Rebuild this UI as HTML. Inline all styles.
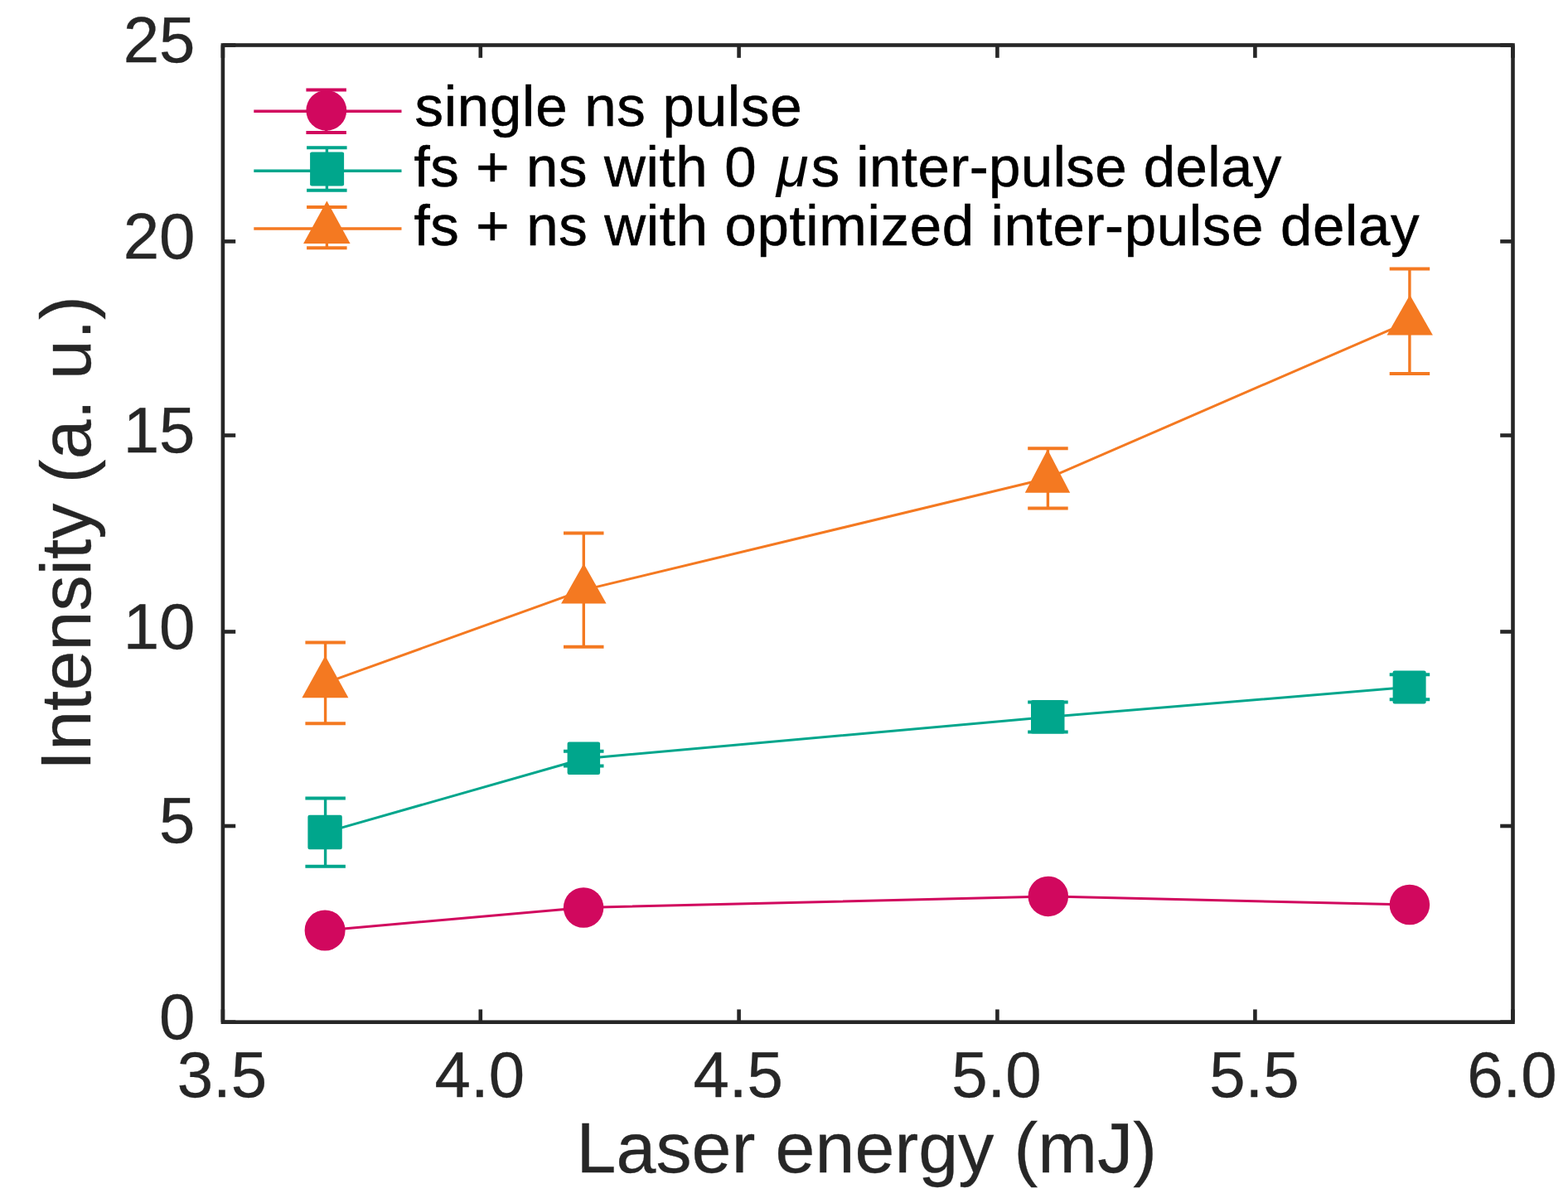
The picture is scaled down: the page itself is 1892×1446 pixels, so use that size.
<!DOCTYPE html><html><head><meta charset="utf-8"><title>Intensity vs laser energy</title><style>html,body{margin:0;padding:0;background:#fff;}svg{display:block;}text{font-family:"Liberation Sans", Arial, Helvetica, sans-serif;}</style></head><body>
<svg width="1892" height="1446" viewBox="0 0 1892 1446">
<rect width="1892" height="1446" fill="#fff"/>
<polyline points="392.6,824.3 704.3,712.1 1264.4,577.3 1700.9,387.8" fill="none" stroke="#F47921" stroke-width="3.0" stroke-linejoin="round"/>
<polyline points="392.6,1004.6 704.3,915.7 1264.4,865.5 1700.9,829.2" fill="none" stroke="#00A68C" stroke-width="3.0" stroke-linejoin="round"/>
<polyline points="392.1,1123.0 704.1,1095.5 1264.8,1081.9 1700.9,1092.0" fill="none" stroke="#D1085E" stroke-width="3.0" stroke-linejoin="round"/>
<line x1="392.6" y1="775.4" x2="392.6" y2="873.3" stroke="#F47921" stroke-width="3.4"/><line x1="368.4" y1="775.4" x2="416.9" y2="775.4" stroke="#F47921" stroke-width="4.0"/><line x1="368.4" y1="873.3" x2="416.9" y2="873.3" stroke="#F47921" stroke-width="4.0"/>
<polygon points="392.4,791.6 364.4,842.2 420.4,842.2" fill="#F47921"/>
<line x1="704.3" y1="643.5" x2="704.3" y2="780.7" stroke="#F47921" stroke-width="3.4"/><line x1="680.0" y1="643.5" x2="728.5" y2="643.5" stroke="#F47921" stroke-width="4.0"/><line x1="680.0" y1="780.7" x2="728.5" y2="780.7" stroke="#F47921" stroke-width="4.0"/>
<polygon points="704.4,680.3 677.1,728.5 731.6,728.5" fill="#F47921"/>
<line x1="1264.4" y1="541.3" x2="1264.4" y2="613.4" stroke="#F47921" stroke-width="3.4"/><line x1="1240.2" y1="541.3" x2="1288.7" y2="541.3" stroke="#F47921" stroke-width="4.0"/><line x1="1240.2" y1="613.4" x2="1288.7" y2="613.4" stroke="#F47921" stroke-width="4.0"/>
<polygon points="1264.0,542.5 1236.8,594.7 1291.2,594.7" fill="#F47921"/>
<line x1="1700.9" y1="324.6" x2="1700.9" y2="451.0" stroke="#F47921" stroke-width="3.4"/><line x1="1676.7" y1="324.6" x2="1725.2" y2="324.6" stroke="#F47921" stroke-width="4.0"/><line x1="1676.7" y1="451.0" x2="1725.2" y2="451.0" stroke="#F47921" stroke-width="4.0"/>
<polygon points="1701.2,355.9 1673.5,404.6 1728.9,404.6" fill="#F47921"/>
<line x1="392.6" y1="963.5" x2="392.6" y2="1045.8" stroke="#00A68C" stroke-width="3.4"/><line x1="368.4" y1="963.5" x2="416.9" y2="963.5" stroke="#00A68C" stroke-width="4.0"/><line x1="368.4" y1="1045.8" x2="416.9" y2="1045.8" stroke="#00A68C" stroke-width="4.0"/>
<rect x="371.4" y="983.8" width="41.4" height="41.4" rx="2.2" fill="#00A68C"/>
<line x1="704.3" y1="906.7" x2="704.3" y2="924.6" stroke="#00A68C" stroke-width="3.4"/><line x1="680.0" y1="906.7" x2="728.5" y2="906.7" stroke="#00A68C" stroke-width="4.0"/><line x1="680.0" y1="924.6" x2="728.5" y2="924.6" stroke="#00A68C" stroke-width="4.0"/>
<rect x="684.6" y="895.5" width="39.5" height="39.5" rx="2.2" fill="#00A68C"/>
<line x1="1264.4" y1="847.5" x2="1264.4" y2="883.5" stroke="#00A68C" stroke-width="3.4"/><line x1="1240.2" y1="847.5" x2="1288.7" y2="847.5" stroke="#00A68C" stroke-width="4.0"/><line x1="1240.2" y1="883.5" x2="1288.7" y2="883.5" stroke="#00A68C" stroke-width="4.0"/>
<rect x="1244.0" y="845.1" width="40.5" height="40.5" rx="2.2" fill="#00A68C"/>
<line x1="1700.9" y1="814.2" x2="1700.9" y2="844.2" stroke="#00A68C" stroke-width="3.4"/><line x1="1676.7" y1="814.2" x2="1725.2" y2="814.2" stroke="#00A68C" stroke-width="4.0"/><line x1="1676.7" y1="844.2" x2="1725.2" y2="844.2" stroke="#00A68C" stroke-width="4.0"/>
<rect x="1680.6" y="809.4" width="40.0" height="40.0" rx="2.2" fill="#00A68C"/>
<circle cx="392.1" cy="1123.0" r="24.50" fill="#D1085E"/>
<circle cx="704.1" cy="1095.5" r="24.25" fill="#D1085E"/>
<circle cx="1264.8" cy="1081.9" r="24.25" fill="#D1085E"/>
<circle cx="1700.9" cy="1092.0" r="24.25" fill="#D1085E"/>
<rect x="268.9" y="54.5" width="1556.6" height="1179.2" fill="none" stroke="#262626" stroke-width="4.6" stroke-linejoin="miter"/>
<line x1="268.9" y1="1233.7" x2="268.9" y2="1218.4" stroke="#262626" stroke-width="4.6"/>
<line x1="268.9" y1="54.5" x2="268.9" y2="69.8" stroke="#262626" stroke-width="4.6"/>
<line x1="579.8" y1="1233.7" x2="579.8" y2="1218.4" stroke="#262626" stroke-width="4.6"/>
<line x1="579.8" y1="54.5" x2="579.8" y2="69.8" stroke="#262626" stroke-width="4.6"/>
<line x1="891.6" y1="1233.7" x2="891.6" y2="1218.4" stroke="#262626" stroke-width="4.6"/>
<line x1="891.6" y1="54.5" x2="891.6" y2="69.8" stroke="#262626" stroke-width="4.6"/>
<line x1="1203.4" y1="1233.7" x2="1203.4" y2="1218.4" stroke="#262626" stroke-width="4.6"/>
<line x1="1203.4" y1="54.5" x2="1203.4" y2="69.8" stroke="#262626" stroke-width="4.6"/>
<line x1="1514.4" y1="1233.7" x2="1514.4" y2="1218.4" stroke="#262626" stroke-width="4.6"/>
<line x1="1514.4" y1="54.5" x2="1514.4" y2="69.8" stroke="#262626" stroke-width="4.6"/>
<line x1="1825.4" y1="1233.7" x2="1825.4" y2="1218.4" stroke="#262626" stroke-width="4.6"/>
<line x1="1825.4" y1="54.5" x2="1825.4" y2="69.8" stroke="#262626" stroke-width="4.6"/>
<line x1="268.9" y1="1233.7" x2="284.2" y2="1233.7" stroke="#262626" stroke-width="4.6"/>
<line x1="1825.5" y1="1233.7" x2="1810.2" y2="1233.7" stroke="#262626" stroke-width="4.6"/>
<line x1="268.9" y1="997.0" x2="284.2" y2="997.0" stroke="#262626" stroke-width="4.6"/>
<line x1="1825.5" y1="997.0" x2="1810.2" y2="997.0" stroke="#262626" stroke-width="4.6"/>
<line x1="268.9" y1="762.5" x2="284.2" y2="762.5" stroke="#262626" stroke-width="4.6"/>
<line x1="1825.5" y1="762.5" x2="1810.2" y2="762.5" stroke="#262626" stroke-width="4.6"/>
<line x1="268.9" y1="525.5" x2="284.2" y2="525.5" stroke="#262626" stroke-width="4.6"/>
<line x1="1825.5" y1="525.5" x2="1810.2" y2="525.5" stroke="#262626" stroke-width="4.6"/>
<line x1="268.9" y1="291.4" x2="284.2" y2="291.4" stroke="#262626" stroke-width="4.6"/>
<line x1="1825.5" y1="291.4" x2="1810.2" y2="291.4" stroke="#262626" stroke-width="4.6"/>
<line x1="268.9" y1="54.5" x2="284.2" y2="54.5" stroke="#262626" stroke-width="4.6"/>
<line x1="1825.5" y1="54.5" x2="1810.2" y2="54.5" stroke="#262626" stroke-width="4.6"/>
<text x="235.5" y="1253.9" font-size="78" fill="#262626" stroke="#262626" stroke-width="0.35" text-anchor="end">0</text>
<text x="235.5" y="1017.2" font-size="78" fill="#262626" stroke="#262626" stroke-width="0.35" text-anchor="end">5</text>
<text x="235.5" y="782.7" font-size="78" fill="#262626" stroke="#262626" stroke-width="0.35" text-anchor="end">10</text>
<text x="235.5" y="545.7" font-size="78" fill="#262626" stroke="#262626" stroke-width="0.35" text-anchor="end">15</text>
<text x="235.5" y="311.6" font-size="78" fill="#262626" stroke="#262626" stroke-width="0.35" text-anchor="end">20</text>
<text x="235.5" y="74.7" font-size="78" fill="#262626" stroke="#262626" stroke-width="0.35" text-anchor="end">25</text>
<text x="267.9" y="1324" font-size="78" fill="#262626" stroke="#262626" stroke-width="0.35" text-anchor="middle">3.5</text>
<text x="578.8" y="1324" font-size="78" fill="#262626" stroke="#262626" stroke-width="0.35" text-anchor="middle">4.0</text>
<text x="890.6" y="1324" font-size="78" fill="#262626" stroke="#262626" stroke-width="0.35" text-anchor="middle">4.5</text>
<text x="1202.4" y="1324" font-size="78" fill="#262626" stroke="#262626" stroke-width="0.35" text-anchor="middle">5.0</text>
<text x="1513.4" y="1324" font-size="78" fill="#262626" stroke="#262626" stroke-width="0.35" text-anchor="middle">5.5</text>
<text x="1824.4" y="1324" font-size="78" fill="#262626" stroke="#262626" stroke-width="0.35" text-anchor="middle">6.0</text>
<text x="1045.7" y="1414.6" font-size="86" fill="#262626" stroke="#262626" stroke-width="0.35" text-anchor="middle" textLength="700.5" lengthAdjust="spacing">Laser energy (mJ)</text>
<text transform="translate(109.3,643.5) rotate(-90)" x="0" y="0" font-size="86" fill="#262626" stroke="#262626" stroke-width="0.35" text-anchor="middle" textLength="573" lengthAdjust="spacing">Intensity (a. u.)</text>
<line x1="306.3" y1="134.3" x2="484.5" y2="134.3" stroke="#D1085E" stroke-width="3.5"/>
<line x1="393.6" y1="108.5" x2="393.6" y2="160.0" stroke="#D1085E" stroke-width="3.4"/><line x1="369.4" y1="108.5" x2="417.9" y2="108.5" stroke="#D1085E" stroke-width="4.0"/><line x1="369.4" y1="160.0" x2="417.9" y2="160.0" stroke="#D1085E" stroke-width="4.0"/>
<circle cx="393.8" cy="133.3" r="24.40" fill="#D1085E"/>
<line x1="306.3" y1="206.3" x2="484.5" y2="206.3" stroke="#00A68C" stroke-width="3.5"/>
<line x1="394.4" y1="178.2" x2="394.4" y2="229.7" stroke="#00A68C" stroke-width="3.4"/><line x1="370.1" y1="178.2" x2="418.6" y2="178.2" stroke="#00A68C" stroke-width="4.0"/><line x1="370.1" y1="229.7" x2="418.6" y2="229.7" stroke="#00A68C" stroke-width="4.0"/>
<rect x="374.1" y="183.4" width="41" height="41" rx="2.2" fill="#00A68C"/>
<line x1="306.3" y1="276.0" x2="484.5" y2="276.0" stroke="#F47921" stroke-width="3.5"/>
<line x1="394.4" y1="250.0" x2="394.4" y2="299.2" stroke="#F47921" stroke-width="3.4"/><line x1="370.1" y1="250.0" x2="418.6" y2="250.0" stroke="#F47921" stroke-width="4.0"/><line x1="370.1" y1="299.2" x2="418.6" y2="299.2" stroke="#F47921" stroke-width="4.0"/>
<polygon points="394.4,242.4 366.1,293.9 422.6,293.9" fill="#F47921"/>
<text x="500.5" y="152.2" font-size="69" fill="#000" stroke="#000" stroke-width="0.6" textLength="467" lengthAdjust="spacing">single ns pulse</text>
<text x="499.5" y="224.8" font-size="69" fill="#000" stroke="#000" stroke-width="0.6" textLength="413" lengthAdjust="spacing">fs + ns with 0</text>
<text x="937" y="224.8" font-size="69" fill="#000" font-family="'Liberation Serif', serif" font-style="italic" textLength="38.5" lengthAdjust="spacingAndGlyphs">μ</text>
<text x="978.8" y="224.8" font-size="69" fill="#000" stroke="#000" stroke-width="0.6" textLength="567.5" lengthAdjust="spacing">s inter-pulse delay</text>
<text x="499.5" y="296.3" font-size="69" fill="#000" stroke="#000" stroke-width="0.6" textLength="1213" lengthAdjust="spacing">fs + ns with optimized inter-pulse delay</text>
</svg></body></html>
